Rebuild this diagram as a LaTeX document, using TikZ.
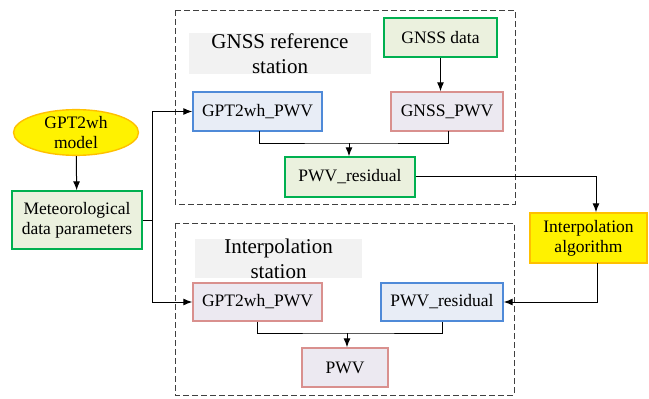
\documentclass[tikz,border=0pt]{standalone}
\usepackage{fontspec}
\setmainfont{Liberation Serif}
\usepackage{xcolor}
\usetikzlibrary{arrows.meta,positioning,shapes.geometric}
\definecolor{gframe}{HTML}{00B050}
\definecolor{gfill}{HTML}{EBF1DE}
\definecolor{bframe}{HTML}{4F8AD8}
\definecolor{bfill}{HTML}{E8EDF6}
\definecolor{rframe}{HTML}{D9908E}
\definecolor{rfill}{HTML}{ECE9F1}
\definecolor{yframe}{HTML}{FFC000}
\definecolor{tagfill}{HTML}{F2F2F2}

\begin{document}
\begin{tikzpicture}[
  x=1pt, y=-1pt,
  box/.style={rectangle, draw, line width=1.4pt, align=center, inner sep=0pt, font=\rmfamily\fontsize{17.5}{20}\selectfont},
  greenbox/.style={box, draw=gframe, fill=gfill},
  bluebox/.style={box, draw=bframe, fill=bfill},
  redbox/.style={box, draw=rframe, fill=rfill},
  tag/.style={rectangle, fill=tagfill, align=center, inner sep=0pt, font=\rmfamily\fontsize{21}{25}\selectfont},
  frame/.style={draw=black!75, line width=1pt, dash pattern=on 6pt off 3pt},
  link/.style={line width=1pt, draw=black},
  arrow/.style={link, -{Latex[length=9pt, width=7pt]}}
]
\useasboundingbox (0,0) rectangle (649,399);

% station frames
\draw[frame] (175,10) rectangle (515,204);
\draw[frame] (175,223) rectangle (514,395);

\node[tag, minimum width=182pt, minimum height=41pt] (reftag) at (280,53.5) {GNSS reference\\station};
\node[tag, minimum width=167pt, minimum height=35pt] (inttag) at (278.5,258.5) {Interpolation\\station};

% model and meteorological input
\node[ellipse, draw=yframe, fill=yellow, line width=1.4pt, inner sep=0pt, align=center,
      minimum width=125pt, minimum height=39pt, font=\rmfamily\fontsize{17.5}{20}\selectfont] (model) at (76,132.5) {GPT2wh\\model};
\node[greenbox, minimum width=130pt, minimum height=58pt] (meteo) at (77,220) {Meteorological\\data parameters};

% reference station
\node[greenbox, minimum width=113pt, minimum height=39pt] (gnssdata) at (440.5,37.5) {GNSS data};
\node[bluebox, minimum width=129pt, minimum height=39pt] (refpwv) at (257.5,111.5) {GPT2wh\_PWV};
\node[redbox, minimum width=112pt, minimum height=39pt] (gnsspwv) at (447,111.5) {GNSS\_PWV};
\node[greenbox, minimum width=130pt, minimum height=40pt] (resid) at (350,177) {PWV\_residual};

\node[box, draw=yframe, fill=yellow, minimum width=117pt, minimum height=50pt] (interp) at (588.5,238) {Interpolation\\algorithm};

% interpolation station
\node[redbox, minimum width=129pt, minimum height=38pt] (intpwv) at (257.5,302) {GPT2wh\_PWV};
\node[bluebox, minimum width=122pt, minimum height=38pt] (intres) at (442,302) {PWV\_residual};
\node[redbox, minimum width=86pt, minimum height=39pt] (pwv) at (345,367.5) {PWV};

\coordinate (split) at (152,220);
\coordinate (refleft) at (259,131);
\coordinate (refright) at (448,131);
\coordinate (refjoin) at (349,143);
\coordinate (intjoin) at (347,333);
\coordinate (turn) at (596,176);
\coordinate (back) at (597,263);

\draw[arrow] (model) -- (meteo);
\draw[link] (meteo.east) -- (split);
\draw[arrow] (split) |- (refpwv.west);
\draw[arrow] (split) |- (intpwv.west);

\draw[arrow] (gnssdata.south) -- (gnssdata.south |- gnsspwv.north);
\draw[link] (refleft) |- (refjoin) -| (refright);
\draw[arrow] (refjoin) -- (refjoin |- resid.north);

\draw[link] (resid.east |- turn) -- (turn);
\draw[arrow] (turn) -- (turn |- interp.north);
\draw[arrow] (back) |- (intres.east);

\draw[link] (intpwv.south) |- (intjoin) -| (intres.south);
\draw[arrow] (intjoin) -- (intjoin |- pwv.north);
\end{tikzpicture}
\end{document}
